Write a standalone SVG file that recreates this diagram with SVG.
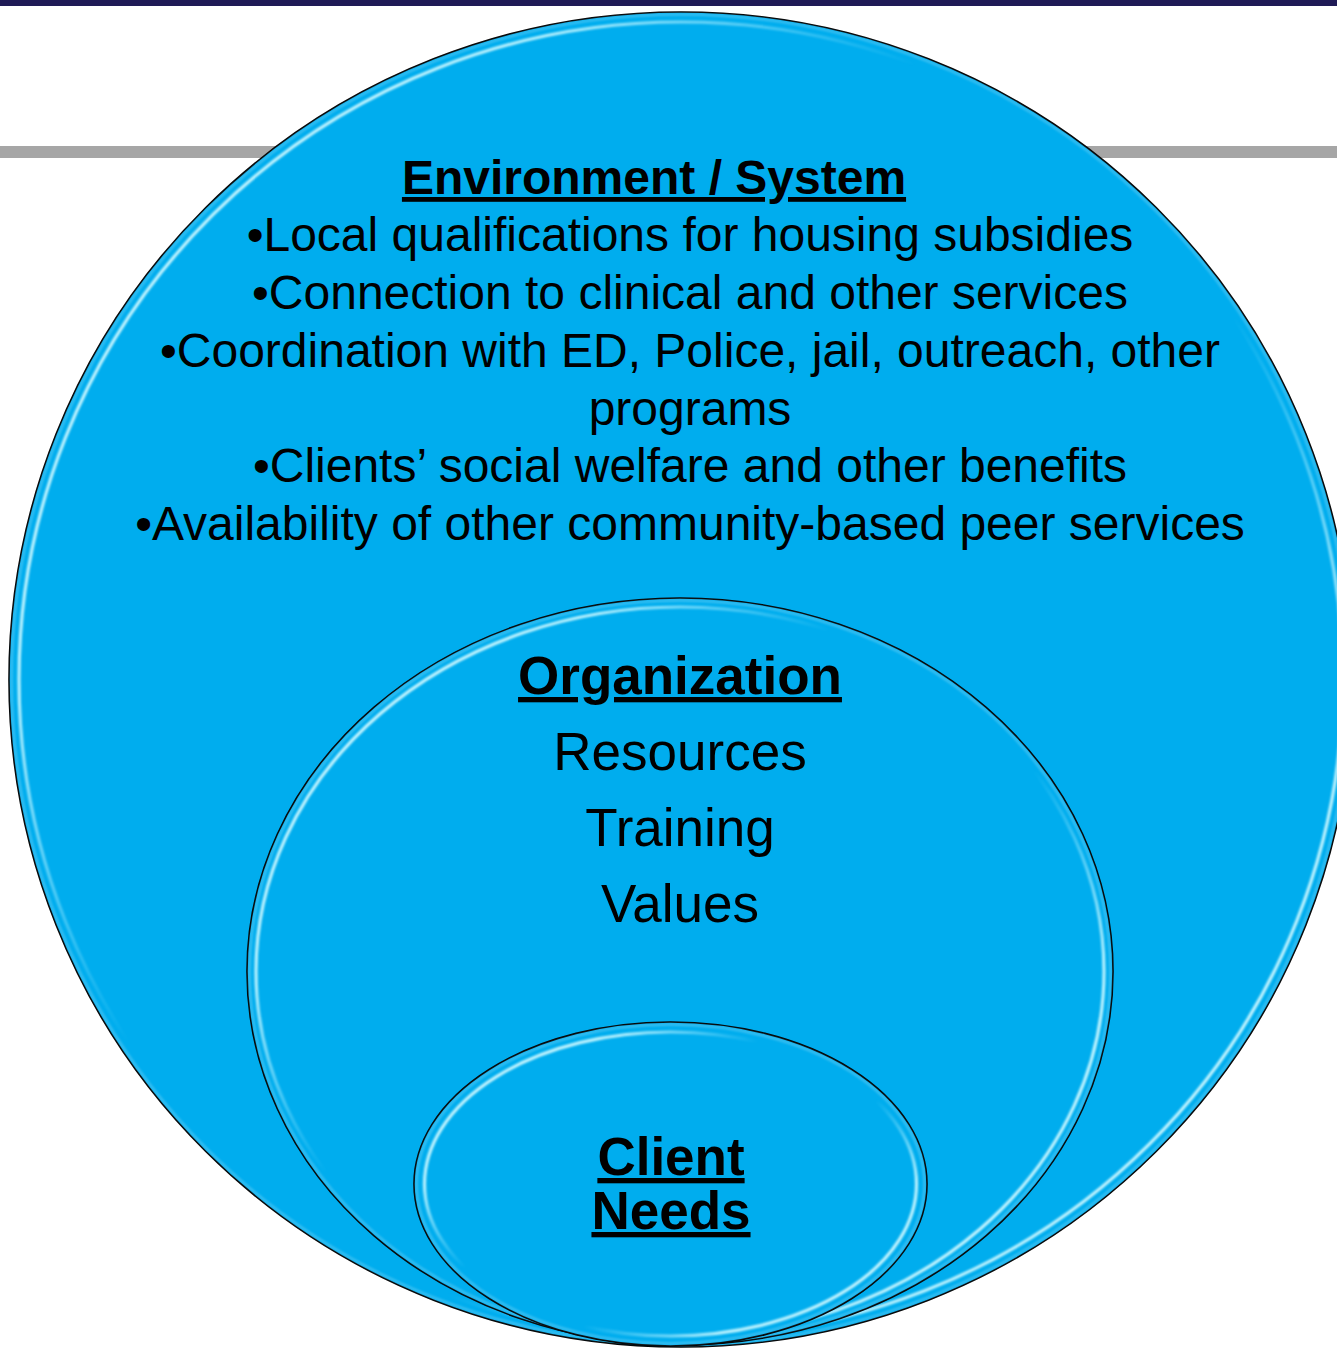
<svg xmlns="http://www.w3.org/2000/svg" width="1337" height="1348" viewBox="0 0 1337 1348">
  <defs>
    <style>
      .disc { fill: #00adee; stroke: #000; stroke-width: 1.6; }
      .edge { fill: none; stroke: #7fd6f6; stroke-width: 2.5; opacity: 0.45; filter: url(#soft); }
      .rim { fill: none; stroke: url(#rimGrad); stroke-width: 3.2; filter: url(#glow); }
      text { font-family: "Liberation Sans", Arial, sans-serif; fill: #000; text-anchor: middle; }
      .head { font-weight: bold; text-decoration: underline; }
      .env { font-size: 48px; }
      .org { font-size: 53px; }
    </style>
    <!-- glossy rim: bright toward top-left and bottom-right, fading across the other diagonal -->
    <linearGradient id="rimGrad" x1="0" y1="0.1" x2="1" y2="0.9">
      <stop offset="0" stop-color="#d2f8ff" stop-opacity="1"/>
      <stop offset="0.2" stop-color="#c2f5ff" stop-opacity="0.95"/>
      <stop offset="0.38" stop-color="#8fe6ff" stop-opacity="0"/>
      <stop offset="0.62" stop-color="#8fe6ff" stop-opacity="0"/>
      <stop offset="0.8" stop-color="#c2f5ff" stop-opacity="0.95"/>
      <stop offset="1" stop-color="#d2f8ff" stop-opacity="1"/>
    </linearGradient>
    <filter id="soft" x="-5%" y="-5%" width="110%" height="110%">
      <feGaussianBlur stdDeviation="1.2"/>
    </filter>
    <filter id="glow" x="-5%" y="-5%" width="110%" height="110%">
      <feGaussianBlur stdDeviation="0.8"/>
    </filter>
  </defs>

  <!-- page background and title rules -->
  <rect x="0" y="0" width="1337" height="1348" fill="#ffffff"/>
  <rect x="0" y="0" width="1337" height="6" fill="#1f1a56"/>
  <rect x="0" y="146" width="1337" height="12" fill="#a6a6a6"/>

  <!-- outer layer: environment / system -->
  <g id="environment">
    <ellipse class="disc" cx="681" cy="679.5" rx="672" ry="667.5"/>
    <ellipse class="edge" cx="681" cy="679.5" rx="669.5" ry="665"/>
    <ellipse class="rim" cx="681" cy="679.5" rx="662" ry="657.5"/>
    <text class="env head" x="654" y="194">Environment / System</text>
    <text class="env" x="690" y="251">•Local qualifications for housing subsidies</text>
    <text class="env" x="690" y="309">•Connection to clinical and other services</text>
    <text class="env" x="690" y="367">•Coordination with ED, Police, jail, outreach, other</text>
    <text class="env" x="690" y="425">programs</text>
    <text class="env" x="690" y="482">•Clients’ social welfare and other benefits</text>
    <text class="env" x="690" y="540">•Availability of other community-based peer services</text>
  </g>

  <!-- middle layer: organization -->
  <g id="organization">
    <ellipse class="disc" cx="680" cy="971.5" rx="433" ry="373.5"/>
    <ellipse class="edge" cx="680" cy="971.5" rx="430.5" ry="371"/>
    <ellipse class="rim" cx="680" cy="971.5" rx="424" ry="364.5"/>
    <text class="org head" x="680" y="694">Organization</text>
    <text class="org" x="680" y="770">Resources</text>
    <text class="org" x="680" y="846">Training</text>
    <text class="org" x="680" y="922">Values</text>
  </g>

  <!-- inner layer: client needs -->
  <g id="client-needs">
    <ellipse class="disc" cx="670.5" cy="1184" rx="256.5" ry="162"/>
    <ellipse class="edge" cx="670.5" cy="1184" rx="254" ry="159.5"/>
    <ellipse class="rim" cx="670.5" cy="1184" rx="246" ry="152"/>
    <text class="org head" x="671" y="1175">Client</text>
    <text class="org head" x="671" y="1229">Needs</text>
  </g>

  <!-- no connectors in this layered diagram -->
  <g id="connectors"/>
</svg>
